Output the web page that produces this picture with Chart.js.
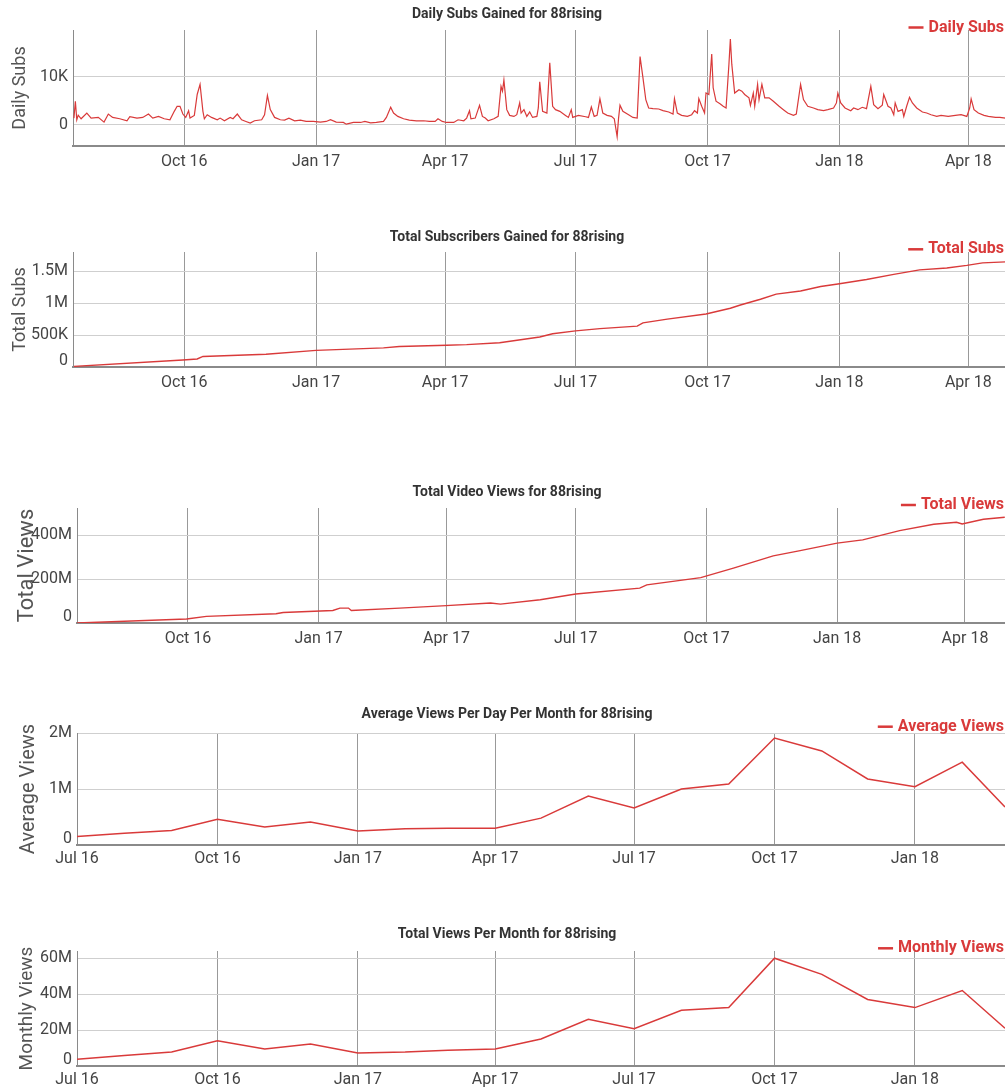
<!DOCTYPE html>
<html>
<head>
<meta charset="utf-8">
<script src="https://cdn.jsdelivr.net/npm/chart.js@4.4.0/dist/chart.umd.min.js"></script>
<style>
    html, body { margin: 0; padding: 0; background: #fff; width: 1005px; height: 1088px; overflow: hidden; }
    .box { position: absolute; left: 0; width: 1014px; }
    canvas { display: block; }
</style>
</head>
<body>
<div class="box" style="top:0px"><canvas id="cDaily" width="1014" height="175"></canvas></div>
<div class="box" style="top:222px"><canvas id="cTotalSubs" width="1014" height="175"></canvas></div>
<div class="box" style="top:478px"><canvas id="cTotalViews" width="1014" height="175"></canvas></div>
<div class="box" style="top:698px"><canvas id="cAvg" width="1014" height="175"></canvas></div>
<div class="box" style="top:918px"><canvas id="cMonthly" width="1014" height="170"></canvas></div>

<script>
// ================= DATA =================
// hari dihitung dari 1 Oct 2016
const BASE_DATE = '2016-10-01';

// --- Daily Subs (per hari) ---
const dailyDays = [
    -77, -76, -75, -74, -72, -68, -65, -60, -56, -53, -50, -45, -40, -38, -33, -29, -25, -22, -18, -14,
    -10, -7, -5, -3, -1, 1, 3, 4, 7, 9, 11, 13, 14, 16, 19, 23, 25, 28, 32, 34,
    37, 40, 43, 46, 49, 54, 56, 58, 60, 63, 67, 70, 73, 77, 81, 85, 90, 95, 99, 102,
    106, 111, 113, 118, 123, 126, 130, 134, 139, 141, 144, 146, 149, 153, 157, 162, 167, 171, 175, 177,
    180, 183, 188, 191, 195, 197, 199, 200, 203, 206, 208, 210, 212, 216, 219, 221, 222, 223, 225, 227,
    230, 232, 234, 235, 237, 239, 241, 243, 246, 247, 248, 250, 253, 255, 257, 259, 262, 266, 268, 270,
    271, 275, 280, 282, 284, 286, 288, 290, 292, 295, 298, 300, 302, 303, 304, 306, 310, 313, 316, 318,
    320, 322, 324, 327, 331, 334, 338, 341, 342, 344, 347, 351, 354, 356, 358, 359, 361, 363, 364, 366,
    368, 369, 371, 374, 376, 378, 380, 381, 382, 384, 387, 389, 391, 394, 395, 397, 398, 400, 401, 403,
    405, 408, 411, 415, 418, 421, 425, 427, 430, 432, 435, 439, 442, 446, 449, 453, 455, 456, 458, 461,
    465, 467, 470, 473, 476, 479, 481, 484, 487, 488, 491, 493, 495, 496, 498, 501, 502, 504, 506, 508,
    511, 515, 518, 521, 525, 528, 533, 538, 542, 546, 548, 549, 551, 554, 558, 561, 566, 569, 573
];
const dailySubs = [
    1400, 4900, 1050, 2000, 1260, 2450, 1400, 1540, 560, 2240, 1540, 1260, 840, 1680, 1400, 1540, 2240, 1400, 1750, 1260,
    1050, 2800, 3850, 3850, 2240, 1540, 2940, 1400, 1960, 6300, 8400, 2800, 1260, 2100, 1540, 1050, 1400, 840, 1540, 1260,
    2240, 1050, 700, 350, 840, 1050, 2100, 6100, 3150, 1540, 1050, 980, 1400, 840, 980, 700, 700, 560, 700, 1050,
    560, 490, 140, 490, 490, 700, 420, 490, 700, 1540, 3640, 2450, 1750, 1260, 980, 840, 840, 700, 700, 1260,
    700, 490, 490, 1050, 840, 1400, 2940, 1260, 1400, 4060, 1750, 1400, 840, 1260, 1750, 8000, 7000, 9300, 3150, 1960,
    1750, 2100, 4550, 2450, 3150, 1750, 2660, 1540, 1750, 3500, 8950, 2800, 2450, 12900, 3850, 3150, 2800, 1960, 1540, 3150,
    1540, 1960, 1680, 1540, 3700, 1750, 1960, 5400, 2450, 1960, 1750, 1260, -2450, 1400, 4060, 2800, 2100, 1540, 1400, 14200,
    9800, 5240, 3500, 3360, 3290, 2940, 2660, 2240, 5450, 2450, 1960, 1750, 2100, 2940, 2450, 5450, 3850, 2450, 6600, 6300,
    14700, 7700, 4900, 4340, 3850, 3500, 12600, 17800, 12600, 6600, 7300, 7000, 6300, 5600, 4060, 6600, 3850, 8400, 5240, 8400,
    5600, 5600, 4900, 3850, 3150, 2450, 1960, 2240, 8400, 5240, 3850, 3500, 3150, 2940, 3150, 3500, 4550, 6600, 4550, 3500,
    2940, 3500, 3150, 3640, 3360, 8000, 4200, 3360, 4060, 6300, 3850, 3500, 2100, 4550, 2800, 3150, 1750, 3850, 5700, 4550,
    3500, 2660, 2450, 2100, 1750, 1960, 1750, 1960, 2100, 1750, 3500, 5400, 3150, 2450, 1960, 1750, 1540, 1540, 1400
];

// --- Total Subs ---
const totalSubsDays = [-77, -1, 9, 13, 57, 92, 139, 150, 183, 197, 220, 248, 257, 273, 290, 316, 320, 337, 364, 381,
    388, 402, 413, 430, 444, 456, 476, 495, 513, 532, 546, 557, 573];
const totalSubs = [10000, 110000, 125000, 165000, 200000, 260000, 300000, 320000, 340000, 350000, 380000, 470000,
    520000, 565000, 600000, 640000, 690000, 750000, 830000, 920000, 970000, 1060000, 1140000, 1190000, 1260000,
    1300000, 1370000, 1450000, 1520000, 1550000, 1590000, 1630000, 1645000];

// --- Total Views ---
const totalViewsDays = [-78, -1, 13, 62, 67, 102, 107, 113, 115, 149, 182, 213, 220, 248, 273, 318, 323, 361, 384,
    412, 431, 457, 475, 501, 525, 541, 545, 560, 575];
const totalViews = [0, 18e6, 30e6, 42e6, 48e6, 57e6, 68e6, 68e6, 57e6, 68e6, 79e6, 91e6, 86e6, 106e6, 132e6, 159e6,
    174e6, 207e6, 250e6, 306e6, 330e6, 364e6, 379e6, 421e6, 450e6, 459e6, 451e6, 473e6, 482e6];

// --- Bulanan ---
const months = ['2016-07', '2016-08', '2016-09', '2016-10', '2016-11', '2016-12', '2017-01', '2017-02', '2017-03',
    '2017-04', '2017-05', '2017-06', '2017-07', '2017-08', '2017-09', '2017-10', '2017-11', '2017-12', '2018-01',
    '2018-02', '2018-03'];
const avgViews = [150000, 210000, 260000, 460000, 320000, 410000, 250000, 290000, 300000, 300000, 480000, 875000,
    660000, 1000000, 1090000, 1910000, 1680000, 1180000, 1040000, 1480000, 680000];
const monthlyViews = [3.8e6, 5.8e6, 7.8e6, 14e6, 9.5e6, 12.3e6, 7.3e6, 7.8e6, 8.8e6, 9.5e6, 15e6, 26e6, 20.7e6,
    31e6, 32.5e6, 60e6, 51e6, 37e6, 32.5e6, 42e6, 21e6];

// --- Tick ---
const quarterDates = ['2016-07-01', '2016-10-01', '2017-01-01', '2017-04-01', '2017-07-01', '2017-10-01',
    '2018-01-01', '2018-04-01'];
const quarterLabels = ['Jul 16', 'Oct 16', 'Jan 17', 'Apr 17', 'Jul 17', 'Oct 17', 'Jan 18', 'Apr 18'];

const dailyTicks = [0, 10000], dailyTickLabels = ['0', '10K'];
const subsTicks = [0, 500000, 1000000, 1500000], subsTickLabels = ['0', '500K', '1M', '1.5M'];
const viewsTicks = [0, 200e6, 400e6], viewsTickLabels = ['0', '200M', '400M'];
const avgTicks = [0, 1e6, 2e6], avgTickLabels = ['0', '1M', '2M'];
const monthlyTicks = [0, 20e6, 40e6, 60e6], monthlyTickLabels = ['0', '20M', '40M', '60M'];

// ================= HELPER =================
const RED = '#d93a3a';
const dayMs = 86400000;
function dayOf(str) {
    const p = str.split('-').map(Number);
    const b = BASE_DATE.split('-').map(Number);
    return (Date.UTC(p[0], p[1] - 1, p[2] || 1) - Date.UTC(b[0], b[1] - 1, b[2])) / dayMs;
}
const monthDays = months.map(dayOf);
const quarterDays = quarterDates.map(dayOf);

Chart.defaults.font.family = 'Roboto';
Chart.defaults.color = '#444';

// legenda kecil di pojok kanan atas
const cornerLegend = {
    id: 'cornerLegend',
    afterDraw(chart, args, opts) {
        const ctx = chart.ctx;
        const ds = chart.data.datasets[0];
        ctx.save();
        ctx.font = 'bold 16px Roboto';
        ctx.textAlign = 'right';
        ctx.textBaseline = 'middle';
        ctx.fillStyle = ds.borderColor;
        ctx.fillText(ds.label, opts.right, opts.y);
        const w = ctx.measureText(ds.label).width;
        ctx.strokeStyle = ds.borderColor;
        ctx.lineWidth = 2.5;
        ctx.beginPath();
        ctx.moveTo(opts.right - w - 20, opts.y);
        ctx.lineTo(opts.right - w - 5, opts.y);
        ctx.stroke();
        ctx.restore();
    }
};

function makeChart(id, c) {
    const xTicks = quarterDays.filter(d => d >= c.xMin - 0.5 && d <= c.xMax);
    const xLabels = quarterLabels.filter((l, i) => quarterDays[i] >= c.xMin - 0.5 && quarterDays[i] <= c.xMax);
    return new Chart(document.getElementById(id), {
        type: 'line',
        data: {
            datasets: [{
                label: c.label,
                data: c.xs.map((x, i) => ({ x: x, y: c.ys[i] })),
                borderColor: RED,
                borderWidth: c.lineWidth,
                pointRadius: 0,
                tension: 0,
                fill: false
            }]
        },
        plugins: [cornerLegend],
        options: {
            responsive: false,
            animation: false,
            devicePixelRatio: 1,
            layout: { padding: { left: 0, right: 0, top: 0, bottom: 0 } },
            plugins: {
                legend: { display: false },
                tooltip: { enabled: false },
                title: {
                    display: true,
                    text: c.title,
                    color: '#333',
                    font: { size: 14, weight: 'bold' },
                    padding: { top: c.titleTop, bottom: c.titleBottom }
                },
                cornerLegend: { right: 1004, y: c.legendY }
            },
            scales: {
                x: {
                    type: 'linear',
                    min: c.xMin,
                    max: c.xMax,
                    afterBuildTicks: s => { s.ticks = xTicks.map(v => ({ value: v })); },
                    afterFit: s => { s.height = c.xAxisH; },
                    ticks: {
                        autoSkip: false, maxRotation: 0, minRotation: 0, padding: c.xPad,
                        font: { size: 16 }, color: '#444',
                        callback: (v, i) => xLabels[i]
                    },
                    grid: { color: '#999', lineWidth: 1, drawTicks: false },
                    border: { color: '#8a8a8a', width: 2 }
                },
                y: {
                    min: c.yMin,
                    max: c.yMax,
                    afterBuildTicks: s => { s.ticks = c.yTicks.map(v => ({ value: v })); },
                    afterFit: s => { s.width = c.yAxisW; },
                    ticks: {
                        padding: 5, font: { size: 16, lineHeight: 0.75 }, color: '#444',
                        // label paling bawah sedikit dinaikkan, seperti aslinya
                        callback: (v, i) => (v === c.yMin ? [c.yLabels[i], ''] : c.yLabels[i])
                    },
                    grid: { color: '#cfcfcf', lineWidth: 1, drawTicks: false },
                    border: { color: '#8a8a8a', width: 1 },
                    title: {
                        display: true, text: c.yTitle, color: '#555',
                        font: { size: c.yTitleSize }, padding: { top: c.yTitlePad, bottom: 0 }
                    }
                }
            }
        }
    });
}

// ================= INIT CHART =================
makeChart('cDaily', {
    title: 'Daily Subs Gained for 88rising', label: 'Daily Subs', yTitle: 'Daily Subs', yTitleSize: 18, yTitlePad: 10,
    xs: dailyDays, ys: dailySubs, lineWidth: 1.2,
    xMin: -77.65, xMax: 578.9, yMin: -4400, yMax: 19700,
    yTicks: dailyTicks, yLabels: dailyTickLabels,
    titleTop: 6.1, titleBottom: 7.1, xAxisH: 29, xPad: 6, yAxisW: 73, legendY: 27.5
});

makeChart('cTotalSubs', {
    title: 'Total Subscribers Gained for 88rising', label: 'Total Subs', yTitle: 'Total Subs', yTitleSize: 18, yTitlePad: 10,
    xs: totalSubsDays, ys: totalSubs, lineWidth: 1.4,
    xMin: -77.65, xMax: 578.9, yMin: 0, yMax: 1800000,
    yTicks: subsTicks, yLabels: subsTickLabels,
    titleTop: 6.6, titleBottom: 6.6, xAxisH: 30, xPad: 6, yAxisW: 73, legendY: 27.3
});

makeChart('cTotalViews', {
    title: 'Total Video Views for 88rising', label: 'Total Views', yTitle: 'Total Views', yTitleSize: 22, yTitlePad: 14,
    xs: totalViewsDays, ys: totalViews, lineWidth: 1.4,
    xMin: -78.1, xMax: 581.5, yMin: 0, yMax: 524e6,
    yTicks: viewsTicks, yLabels: viewsTickLabels,
    titleTop: 6.1, titleBottom: 7.1, xAxisH: 30, xPad: 6, yAxisW: 77, legendY: 27
});

makeChart('cAvg', {
    title: 'Average Views Per Day Per Month for 88rising', label: 'Average Views', yTitle: 'Average Views', yTitleSize: 20, yTitlePad: 17,
    xs: monthDays, ys: avgViews, lineWidth: 1.5,
    xMin: -92, xMax: 521.9, yMin: 0, yMax: 2000000,
    yTicks: avgTicks, yLabels: avgTickLabels,
    titleTop: 7.6, titleBottom: 10.6, xAxisH: 28, xPad: 4, yAxisW: 77, legendY: 28.7
});

makeChart('cMonthly', {
    title: 'Total Views Per Month for 88rising', label: 'Monthly Views', yTitle: 'Monthly Views', yTitleSize: 19, yTitlePad: 15.5,
    xs: monthDays, ys: monthlyViews, lineWidth: 1.5,
    xMin: -92, xMax: 521.9, yMin: 0, yMax: 64e6,
    yTicks: monthlyTicks, yLabels: monthlyTickLabels,
    titleTop: 8.1, titleBottom: 8.1, xAxisH: 22, xPad: 4, yAxisW: 77, legendY: 30.3
});
</script>
</body>
</html>
